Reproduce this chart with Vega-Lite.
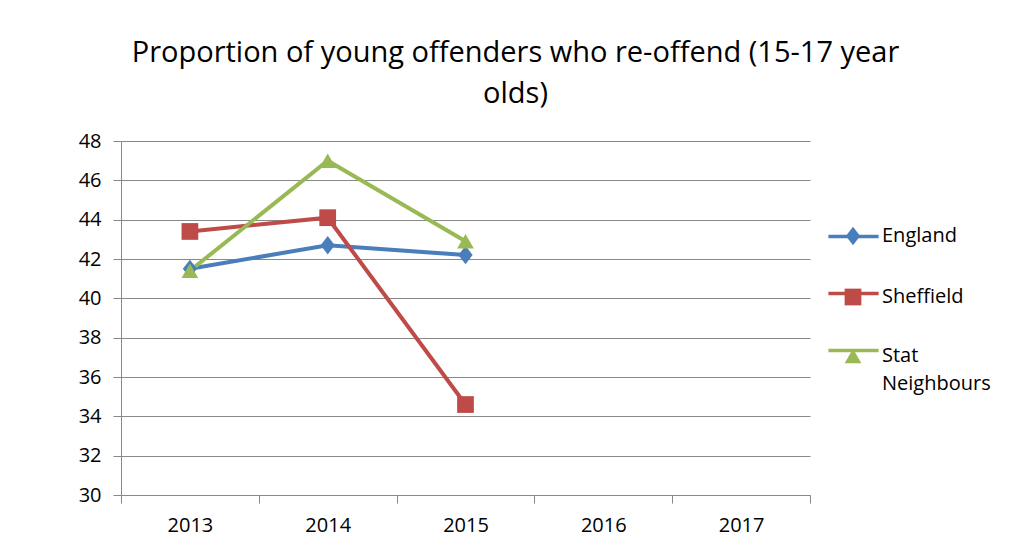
{
  "$schema": "https://vega.github.io/schema/vega-lite/v6.json",
  "width": 689,
  "height": 354,
  "autosize": "none",
  "padding": {"left": 121, "top": 141, "right": 205, "bottom": 52},
  "background": "white",
  "title": {
    "text": ["Proportion of young offenders who re-offend (15-17 year", "olds)"],
    "anchor": "middle",
    "frame": "group",
    "dx": 50,
    "offset": 22,
    "font": "Open Sans",
    "fontSize": 29,
    "fontWeight": "normal",
    "color": "#000000",
    "lineHeight": 41
  },
  "config": {
    "view": {"stroke": null},
    "font": "Open Sans",
    "style": {"guide-label": {"lineHeight": 28}}
  },
  "data": {
    "values": [
      {"series": "England", "year": "2013", "value": 41.5},
      {"series": "England", "year": "2014", "value": 42.7},
      {"series": "England", "year": "2015", "value": 42.2},
      {"series": "Sheffield", "year": "2013", "value": 43.4},
      {"series": "Sheffield", "year": "2014", "value": 44.1},
      {"series": "Sheffield", "year": "2015", "value": 34.6},
      {"series": "Stat Neighbours", "year": "2013", "value": 41.4},
      {"series": "Stat Neighbours", "year": "2014", "value": 47.0},
      {"series": "Stat Neighbours", "year": "2015", "value": 42.9}
    ]
  },
  "encoding": {
    "x": {
      "field": "year",
      "type": "ordinal",
      "scale": {"type": "band", "domain": ["2013", "2014", "2015", "2016", "2017"], "paddingInner": 0, "paddingOuter": 0},
      "axis": {
        "title": null,
        "tickBand": "extent",
        "labelAngle": 0,
        "tickSize": 8,
        "domainColor": "#888888",
        "tickColor": "#888888",
        "labelFontSize": 20,
        "labelFont": "Open Sans",
        "labelColor": "#000000",
        "labelPadding": 12,
        "grid": false
      }
    },
    "y": {
      "field": "value",
      "type": "quantitative",
      "scale": {"domain": [30, 48], "nice": false, "zero": false},
      "axis": {
        "title": null,
        "values": [30, 32, 34, 36, 38, 40, 42, 44, 46, 48],
        "grid": true,
        "gridColor": "#888888",
        "domainColor": "#888888",
        "tickColor": "#888888",
        "tickSize": 8,
        "labelFontSize": 20,
        "labelFont": "Open Sans",
        "labelColor": "#000000",
        "labelPadding": 12
      }
    }
  },
  "layer": [
    {
      "mark": {"type": "line", "strokeWidth": 4},
      "encoding": {
        "stroke": {
          "field": "series",
          "type": "nominal",
          "scale": {"domain": ["England", "Sheffield", "Stat Neighbours"], "range": ["#4A7EBB", "#BE4B48", "#98B954"]},
          "legend": {
            "orient": "none",
            "legendX": 722,
            "legendY": 85,
            "direction": "vertical",
            "title": null,
            "symbolType": "M-3,0H3",
            "symbolSize": 280,
            "symbolStrokeWidth": 3.5,
            "labelFont": "Open Sans",
            "labelFontSize": 20,
            "labelOpacity": 0,
            "labelOffset": 19,
            "rowPadding": 36,
            "labelBaseline": "middle",
            "labelExpr": "datum.label == 'Stat Neighbours' ? [' ', ' '] : ' '"
          }
        }
      }
    },
    {
      "mark": {"type": "point", "filled": true, "size": 280, "opacity": 1},
      "encoding": {
        "fill": {
          "field": "series",
          "type": "nominal",
          "scale": {"range": ["#4A7EBB", "#BE4B48", "#98B954"]},
          "legend": {
            "orient": "none",
            "legendX": 722,
            "legendY": 85,
            "direction": "vertical",
            "title": null,
            "symbolSize": 280,
            "labelFont": "Open Sans",
            "labelFontSize": 20,
            "labelColor": "#000000",
            "labelOffset": 19,
            "rowPadding": 36,
            "labelBaseline": "middle",
            "labelExpr": "datum.label == 'Stat Neighbours' ? ['Stat', 'Neighbours'] : datum.label"
          }
        },
        "shape": {
          "field": "series",
          "type": "nominal",
          "scale": {"range": ["M0,-1.1L0.85,0L0,1.1L-0.85,0Z", "square", "triangle-up"]},
          "legend": {
            "orient": "none",
            "legendX": 722,
            "legendY": 85,
            "direction": "vertical",
            "title": null,
            "symbolSize": 280,
            "labelFont": "Open Sans",
            "labelFontSize": 20,
            "labelColor": "#000000",
            "labelOffset": 19,
            "rowPadding": 36,
            "labelBaseline": "middle",
            "labelExpr": "datum.label == 'Stat Neighbours' ? ['Stat', 'Neighbours'] : datum.label"
          }
        }
      }
    }
  ]
}
